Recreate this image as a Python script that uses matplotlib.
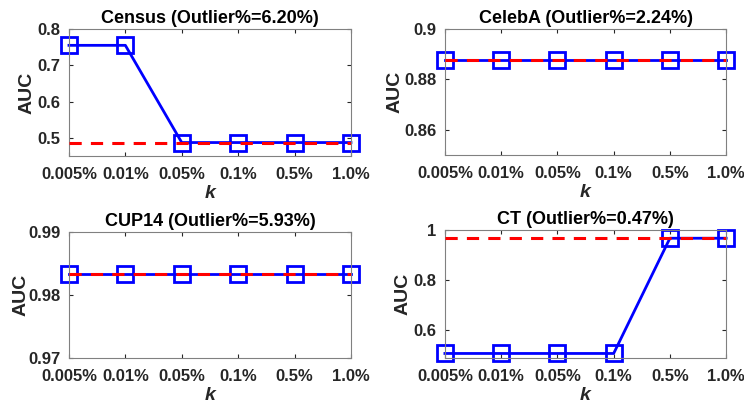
import numpy as np
import matplotlib
matplotlib.use("Agg")
from matplotlib import pyplot as plt

plt.rcParams['font.family'] = ['Liberation Sans', 'DejaVu Sans']
plt.rcParams['font.weight'] = 'bold'

# data
k_labels = ['0.005%', '0.01%', '0.05%', '0.1%', '0.5%', '1.0%']
titles = ['Census (Outlier%=6.20%)', 'CelebA (Outlier%=2.24%)',
          'CUP14 (Outlier%=5.93%)', 'CT (Outlier%=0.47%)']
census_auc = [0.755, 0.755, 0.487, 0.487, 0.487, 0.487]
celeba_auc = [0.8877, 0.8877, 0.8877, 0.8877, 0.8877, 0.8877]
cup14_auc = [0.9833, 0.9833, 0.9833, 0.9833, 0.9833, 0.9833]
ct_auc = [0.508, 0.508, 0.508, 0.508, 0.967, 0.967]
baselines = [0.487, 0.8877, 0.9833, 0.967]
ylims = [(0.45, 0.8), (0.85, 0.9), (0.97, 0.99), (0.49, 1.0)]
yticks = [[0.5, 0.6, 0.7, 0.8], [0.86, 0.88, 0.9], [0.97, 0.98, 0.99], [0.6, 0.8, 1.0]]
ytick_labels = [['0.5', '0.6', '0.7', '0.8'], ['0.86', '0.88', '0.9'],
                ['0.97', '0.98', '0.99'], ['0.6', '0.8', '1']]
series = [census_auc, celeba_auc, cup14_auc, ct_auc]

# axes boxes in figure fractions [left, bottom, width, height]
boxes = [[0.0927, 0.613, 0.379, 0.315],
         [0.598, 0.615, 0.378, 0.313],
         [0.0927, 0.1117, 0.379, 0.3127],
         [0.598, 0.1117, 0.378, 0.3177]]
ylabel_x = [-0.12, -0.146, -0.14, -0.117]

fig = plt.figure(figsize=(7.44, 4.03), dpi=100)
x = np.arange(1, len(k_labels) + 1)
frame = '#262626'

for i in range(4):
    ax = fig.add_axes(boxes[i])
    ax.axhline(baselines[i], color='red', linestyle=(0, (4, 3)), linewidth=2.2, zorder=3)
    ax.plot(x, series[i], color='blue', linewidth=2, marker='s', markersize=11,
            markerfacecolor='none', markeredgewidth=2, clip_on=False, zorder=2)
    ax.set_xlim(1, 6)
    ax.set_ylim(*ylims[i])
    ax.set_xticks(x)
    ax.set_xticklabels(k_labels)
    ax.set_yticks(yticks[i])
    ax.set_yticklabels(ytick_labels[i])
    ax.tick_params(direction='in', top=True, right=True, length=3, width=0.8,
                   colors=frame, labelsize=12, pad=6)
    ax.tick_params(axis='x', pad=8)
    for lab in ax.get_xticklabels() + ax.get_yticklabels():
        lab.set_fontweight('bold')
        lab.set_color(frame)
    for s in ax.spines.values():
        s.set_color('#808080')
        s.set_linewidth(0.8)
    ax.set_title(titles[i], fontsize=13, fontweight='bold', pad=4)
    ax.set_ylabel('AUC', fontsize=14, fontweight='bold', color=frame)
    ax.yaxis.set_label_coords(ylabel_x[i], 0.5)
    ax.set_xlabel('k', fontsize=14, fontweight='bold',
                  fontstyle='italic', color=frame, labelpad=2)

fig.savefig('out.png', dpi=100)
